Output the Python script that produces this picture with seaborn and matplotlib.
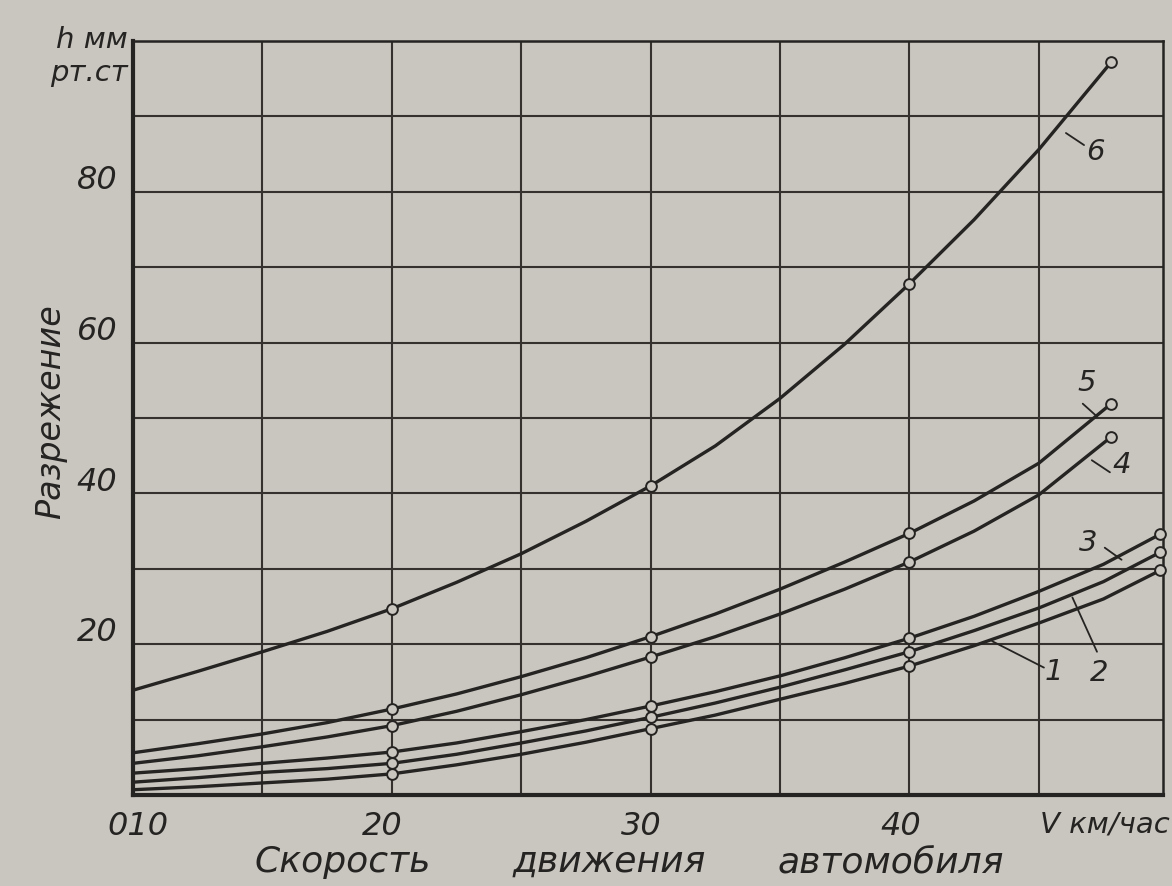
import numpy as np
import pandas as pd
import matplotlib
matplotlib.use('Agg')
import matplotlib.pyplot as plt
import matplotlib.transforms as mtransforms
import seaborn as sns

# Style
sns.set_style("white")
plt.rcParams['font.family'] = ['DejaVu Sans']
plt.rcParams['font.style'] = 'oblique'

paper = '#c9c6c0'
ink = '#262422'

# Data: speed V (km/h) vs vacuum h (mm Hg)
v_low = [10, 12.5, 15, 17.5, 20, 22.5, 25, 27.5, 30, 32.5, 35, 37.5, 40, 42.5, 45, 47.5, 49.7]
h1 = [0.7, 1.1, 1.6, 2.1, 2.8, 4.0, 5.4, 7.0, 8.8, 10.6, 12.7, 14.8, 17.1, 19.8, 22.8, 26.0, 29.8]
h2 = [1.7, 2.3, 3.0, 3.5, 4.2, 5.4, 6.9, 8.5, 10.3, 12.2, 14.3, 16.6, 19.0, 21.8, 24.8, 28.3, 32.2]
h3 = [2.9, 3.5, 4.2, 4.9, 5.7, 6.9, 8.4, 10.0, 11.8, 13.7, 15.8, 18.2, 20.8, 23.7, 27.0, 30.6, 34.6]
v_high = [10, 12.5, 15, 17.5, 20, 22.5, 25, 27.5, 30, 32.5, 35, 37.5, 40, 42.5, 45, 47.8]
h4 = [4.2, 5.2, 6.4, 7.7, 9.2, 11.1, 13.3, 15.7, 18.3, 21.0, 24.0, 27.3, 30.9, 35.0, 39.8, 47.5]
h5 = [5.6, 6.8, 8.1, 9.6, 11.4, 13.4, 15.7, 18.2, 21.0, 24.0, 27.3, 30.9, 34.7, 39.0, 44.0, 51.9]
h6 = [13.9, 16.4, 19.0, 21.7, 24.7, 28.2, 32.0, 36.3, 41.0, 46.3, 52.6, 59.8, 67.8, 76.3, 85.6, 97.2]
curve_names = ['1', '2', '3', '4', '5', '6']
v_marked = [20, 30, 40, 47.8, 49.7]   # measured points drawn as circles

# Curve label positions (text xy, leader start, leader end)
label_text = [(45.6, 16.3), (47.35, 16.2), (46.9, 33.4), (48.2, 43.8), (46.85, 54.6), (47.2, 85.3)]
leader_a = [(43.2, 20.4), (46.3, 26.2), (47.55, 32.8), (47.05, 44.4), (46.7, 51.9), (46.05, 87.8)]
leader_b = [(45.2, 16.9), (47.25, 19.0), (48.2, 31.2), (47.75, 42.8), (47.25, 50.2), (46.75, 86.2)]

# Long tables for seaborn
rows = []
for name, vs, hs in zip(curve_names, [v_low, v_low, v_low, v_high, v_high, v_high],
                        [h1, h2, h3, h4, h5, h6]):
    for v, h in zip(vs, hs):
        rows.append((name, v, h))
df = pd.DataFrame(rows, columns=['curve', 'v', 'h'])
df_marks = df[df['v'].isin(v_marked)]

fig = plt.figure(figsize=(11.72, 8.86), dpi=100, facecolor=paper)
ax = fig.add_axes([0.1135, 0.1027, 0.8788, 0.851], facecolor=paper)

sns.lineplot(data=df, x='v', y='h', units='curve', estimator=None, color=ink,
             linewidth=2.4, ax=ax, zorder=3)
sns.scatterplot(data=df_marks, x='v', y='h', marker='o', s=60, facecolor=paper,
                edgecolor=ink, linewidth=1.4, ax=ax, zorder=5, clip_on=False)

ax.set_xlim(10, 49.8)
ax.set_ylim(0, 100)
ax.set_xticks(np.arange(10, 50, 5))
ax.set_yticks(np.arange(0, 101, 10))
ax.grid(True, color='#34312e', linewidth=1.5)
ax.tick_params(length=0, labelbottom=False, labelleft=False)
ax.set_xlabel('')
ax.set_ylabel('')
for side, lw in [('left', 3.0), ('bottom', 3.0), ('top', 1.8), ('right', 1.8)]:
    ax.spines[side].set_visible(True)
    ax.spines[side].set_color(ink)
    ax.spines[side].set_linewidth(lw)

# Curve numbers with leader lines
for name, (tx, ty), (ax0, ay0), (ax1, ay1) in zip(curve_names, label_text, leader_a, leader_b):
    ax.plot([ax0, ax1], [ay0, ay1], color=ink, linewidth=1.3, zorder=4)
    ax.text(tx, ty, name, fontsize=21, color=ink, ha='center', va='center')

fs = 23
# Y tick labels sit just above their grid lines
ytrans = mtransforms.blended_transform_factory(ax.transAxes, ax.transData)
for val in [20, 40, 60, 80]:
    ax.text(-0.015, val + 1.5, str(val), transform=ytrans, ha='right', va='center',
            fontsize=fs, color=ink)

# X tick labels
xtrans = mtransforms.blended_transform_factory(ax.transData, ax.transAxes)
for val in [20, 30, 40]:
    ax.text(val - 0.35, -0.042, str(val), transform=xtrans, ha='center', va='center',
            fontsize=fs, color=ink)
ax.text(10.2, -0.042, '010', transform=xtrans, ha='center', va='center', fontsize=fs, color=ink)
fig.text(0.998, 0.069, 'V км/час', ha='right', va='center', fontsize=21, color=ink)

# Axis titles
fig.text(0.109, 0.955, 'h мм', ha='right', va='center', fontsize=21, color=ink)
fig.text(0.109, 0.918, 'рт.ст', ha='right', va='center', fontsize=21, color=ink)
fig.text(0.043, 0.535, 'Разрежение', rotation=90, ha='center', va='center', fontsize=24, color=ink)
for word, xc in [('Скорость', 0.292), ('движения', 0.52), ('автомобиля', 0.76)]:
    fig.text(xc, 0.027, word, ha='center', va='center', fontsize=26, color=ink)

fig.savefig('out.png', dpi=100, facecolor=paper)
